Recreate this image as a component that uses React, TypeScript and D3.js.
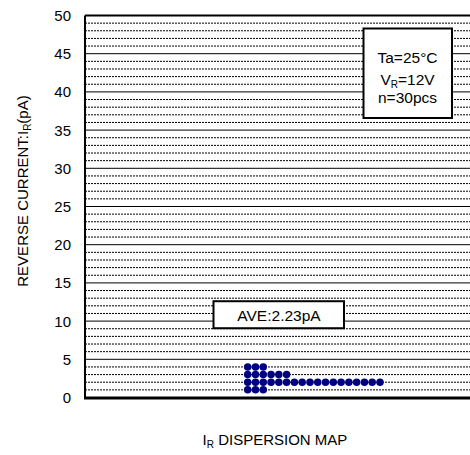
import React from "react";
import * as d3 from "d3";

const yTicks = [0, 5, 10, 15, 20, 25, 30, 35, 40, 45, 50];
const gridValues = d3.range(0, 51, 1);
const dotValues = [4, 3, 2, 1];
const dotCounts = [3, 6, 18, 3];
const averageLabel = "AVE:2.23pA";
const averageValue = 10.9;
const conditionLines = ["Ta=25°C", "V_R=12V", "n=30pcs"];

const W = 470;
const H = 455;
const plot = { left: 85, right: 474, top: 15.5, bottom: 397.5 };
const FONT = "Liberation Sans, Arial, sans-serif";

export default function App() {
  const y = d3.scaleLinear().domain([0, 50]).range([plot.bottom, plot.top]);
  const x = d3.scaleLinear().domain([0, 17]).range([247.7, 380]);

  const dots: { v: number; i: number }[] = [];
  dotValues.forEach((v, k) => {
    for (let i = 0; i < dotCounts[k]; i++) dots.push({ v, i });
  });

  const boxTop = y(averageValue) - 13;

  return (
    <svg
      width={W}
      height={H}
      style={{ position: "absolute", left: 0, top: 0, background: "#fff" }}
      fontFamily={FONT}
    >
      <rect x={0} y={0} width={W} height={H} fill="#fff" />
      {/* grid */}
      {gridValues.map((v) =>
        v % 5 === 0 ? (
          <line key={v} x1={plot.left} x2={plot.right} y1={y(v)} y2={y(v)} stroke="#000" strokeWidth={1} />
        ) : (
          <line
            key={v}
            x1={plot.left}
            x2={plot.right}
            y1={y(v)}
            y2={y(v)}
            stroke="#000"
            strokeWidth={1}
            strokeDasharray="2 1"
          />
        )
      )}
      {/* axes frame */}
      <line x1={plot.left} x2={plot.left} y1={plot.top} y2={plot.bottom + 1} stroke="#000" strokeWidth={2} />
      <line x1={plot.left} x2={plot.right} y1={plot.top} y2={plot.top} stroke="#000" strokeWidth={2} />
      <line x1={plot.left - 1} x2={plot.right} y1={plot.bottom + 0.5} y2={plot.bottom + 0.5} stroke="#000" strokeWidth={3} />

      {/* y tick labels */}
      {yTicks.map((t) => (
        <text key={t} x={71} y={y(t)} dy="0.36em" textAnchor="end" fontSize={15} fill="#000">
          {t}
        </text>
      ))}

      {/* dots */}
      {dots.map((d, k) => (
        <circle key={k} cx={x(d.i)} cy={y(d.v)} r={3.75} fill="#000080" />
      ))}

      {/* AVE box */}
      <rect x={213.5} y={boxTop} width={130.5} height={27} fill="#fff" stroke="#000" strokeWidth={2} />
      <text x={279} y={boxTop + 20} textAnchor="middle" fontSize={15.5} fill="#000">
        {averageLabel}
      </text>

      {/* condition box */}
      <rect x={363.5} y={28.5} width={88.5} height={89.5} fill="#fff" stroke="#000" strokeWidth={2} />
      <text x={407.5} y={62.5} textAnchor="middle" fontSize={15.5} fill="#000">
        {conditionLines[0]}
      </text>
      <text x={407.5} y={85} textAnchor="middle" fontSize={15.5} fill="#000">
        <tspan>V</tspan>
        <tspan fontSize={10} dy={3}>R</tspan>
        <tspan dy={-3}>=12V</tspan>
      </text>
      <text x={407.5} y={102.5} textAnchor="middle" fontSize={15.5} fill="#000">
        {conditionLines[2]}
      </text>

      {/* y title */}
      <text transform={`translate(27.5,191) rotate(-90)`} textAnchor="middle" fontSize={15} fill="#000">
        <tspan>REVERSE CURRENT:I</tspan>
        <tspan fontSize={10} dy={3}>R</tspan>
        <tspan dy={-3}>(pA)</tspan>
      </text>

      {/* x title */}
      <text x={275} y={445} textAnchor="middle" fontSize={15} fill="#000">
        <tspan>I</tspan>
        <tspan fontSize={10} dy={3}>R</tspan>
        <tspan dy={-3}> DISPERSION MAP</tspan>
      </text>
    </svg>
  );
}
